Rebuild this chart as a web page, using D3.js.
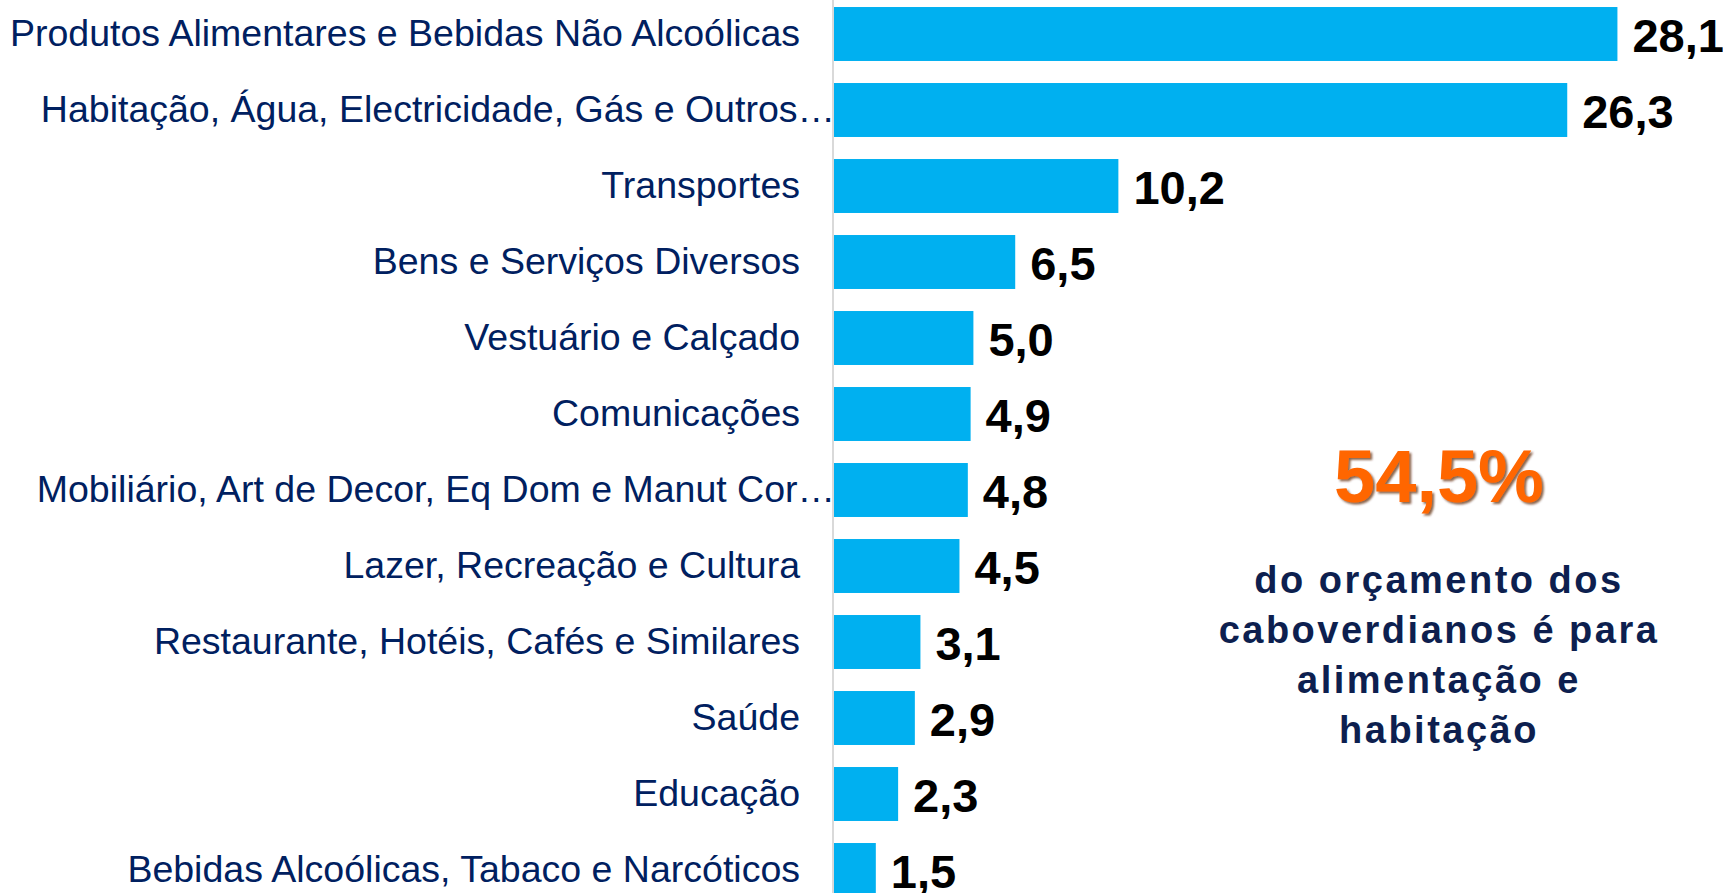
<!DOCTYPE html>
<html>
<head>
<meta charset="utf-8">
<script src="https://cdn.jsdelivr.net/npm/d3@7"></script>
<style>
  body { margin: 0; background: #fff; overflow: hidden; }
  text { font-family: "Liberation Sans", Arial, sans-serif; }
</style>
</head>
<body>
<script>
var categories = [
    "Produtos Alimentares e Bebidas Não Alcoólicas",
    "Habitação, Água, Electricidade, Gás e Outros…",
    "Transportes",
    "Bens e Serviços Diversos",
    "Vestuário e Calçado",
    "Comunicações",
    "Mobiliário, Art de Decor, Eq Dom e Manut Cor…",
    "Lazer, Recreação e Cultura",
    "Restaurante, Hotéis, Cafés e Similares",
    "Saúde",
    "Educação",
    "Bebidas Alcoólicas, Tabaco e Narcóticos"
];
var values = [28.1, 26.3, 10.2, 6.5, 5.0, 4.9, 4.8, 4.5, 3.1, 2.9, 2.3, 1.5];

var highlight = "54,5%";
var noteLines = ["do orçamento dos", "caboverdianos é para", "alimentação e", "habitação"];

var width = 1723,
    height = 893;

var svg = d3.select("body").append("svg")
    .attr("width", width)
    .attr("height", height);

var x = d3.scaleLinear()
    .domain([0, 30])
    .range([834, 834 + 30 * 27.88]);

var y = d3.scaleBand()
    .domain(categories)
    .range([-4, 908])
    .paddingInner(0.29)
    .paddingOuter(0.145);

var fmt = function(v) { return d3.format(".1f")(v).replace(".", ","); };

svg.selectAll(".bar")
    .data(values)
    .enter()
    .append("rect")
    .attr("class", "bar")
    .attr("x", x(0))
    .attr("y", (d, i) => y(categories[i]))
    .attr("width", d => x(d) - x(0))
    .attr("height", y.bandwidth())
    .attr("fill", "#00B0F0");

// axis line
svg.append("line")
    .attr("x1", 833).attr("x2", 833)
    .attr("y1", 0).attr("y2", height)
    .attr("stroke", "#D9D9D9")
    .attr("stroke-width", 2);

// category labels (truncated ones let the ellipsis hang past the text edge)
svg.selectAll(".cat")
    .data(categories)
    .enter()
    .append("text")
    .attr("class", "cat")
    .attr("x", d => d.endsWith("…") ? 835 : 800)
    .attr("y", d => y(d) + y.bandwidth() / 2 + 12)
    .attr("text-anchor", "end")
    .attr("font-size", 37.5)
    .attr("fill", "#002060")
    .text(d => d);

// value labels
svg.selectAll(".val")
    .data(values)
    .enter()
    .append("text")
    .attr("class", "val")
    .attr("x", d => x(d) + 15)
    .attr("y", (d, i) => y(categories[i]) + y.bandwidth() / 2 + 18)
    .attr("font-size", 47)
    .attr("font-weight", "bold")
    .attr("fill", "#000")
    .text(d => fmt(d));

var defs = svg.append("defs");
defs.append("filter")
    .attr("id", "shadow")
    .attr("x", "-10%").attr("y", "-10%")
    .attr("width", "130%").attr("height", "130%")
    .append("feDropShadow")
    .attr("dx", 2).attr("dy", 2)
    .attr("stdDeviation", 1)
    .attr("flood-color", "#5a2400")
    .attr("flood-opacity", 0.7);

svg.append("text")
    .attr("x", 1439)
    .attr("y", 502)
    .attr("text-anchor", "middle")
    .attr("font-size", 74)
    .attr("font-weight", "bold")
    .attr("fill", "#FF6600")
    .attr("filter", "url(#shadow)")
    .text(highlight);

svg.selectAll(".note")
    .data(noteLines)
    .enter()
    .append("text")
    .attr("class", "note")
    .attr("x", 1439)
    .attr("y", (d, i) => 593 + i * 50)
    .attr("text-anchor", "middle")
    .attr("font-size", 38)
    .attr("font-weight", "bold")
    .attr("letter-spacing", 2.5)
    .attr("fill", "#0D1F4F")
    .text(d => d);
</script>
</body>
</html>
